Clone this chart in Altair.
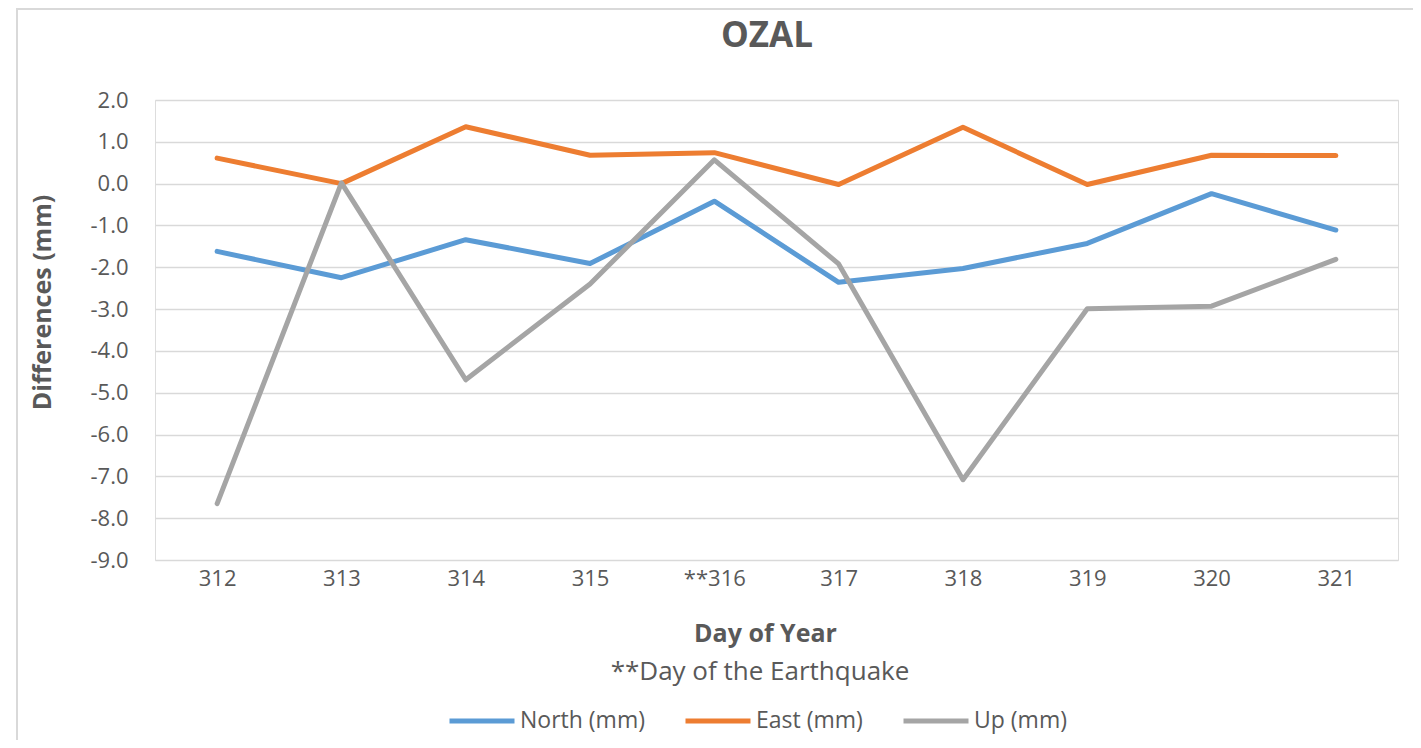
import altair as alt
import pandas as pd

# ---- data ----
days = ["312", "313", "314", "315", "**316", "317", "318", "319", "320", "321"]
north = [-1.62, -2.25, -1.34, -1.91, -0.42, -2.36, -2.03, -1.43, -0.24, -1.11]
east = [0.61, 0.00, 1.36, 0.68, 0.74, -0.02, 1.35, -0.02, 0.68, 0.67]
up = [-7.65, 0.02, -4.69, -2.40, 0.57, -1.92, -7.08, -2.99, -2.93, -1.81]
series = ["North (mm)", "East (mm)", "Up (mm)"]
colors = ["#5B9BD5", "#ED7D31", "#A5A5A5"]
y_ticks = [2, 1, 0, -1, -2, -3, -4, -5, -6, -7, -8, -9]
title_text = ["OZAL"]
x_title = "Day of Year"
y_title = "Differences (mm)"
note_text = ["**Day of the Earthquake"]

rows = []
for name, vals in zip(series, [north, east, up]):
    for d, v in zip(days, vals):
        rows.append({"day": d, "series": name, "value": v})
df = pd.DataFrame(rows)

W, H = 1243, 460
FONT = "Open Sans"
TXT = "#595959"
GRID = "#D9D9D9"

label_expr = (
    "datum.value < 0 ? '-' + format(abs(datum.value), '.1f') : format(datum.value, '.1f')"
)

lines = alt.Chart(df).mark_line(
    strokeWidth=5, strokeCap="round", strokeJoin="round"
).encode(
    x=alt.X(
        "day:N",
        sort=days,
        scale=alt.Scale(type="point", padding=0.5),
        axis=alt.Axis(
            title=x_title,
            labelAngle=0,
            ticks=False,
            domain=False,
            grid=False,
            labelPadding=8,
            labelFontSize=22,
            labelColor=TXT,
            labelFont=FONT,
            titleFont=FONT,
            titleFontSize=25,
            titleFontWeight="bold",
            titleColor=TXT,
            titleX=610,
            titleY=73,
            titleBaseline="middle",
        ),
    ),
    y=alt.Y(
        "value:Q",
        scale=alt.Scale(domain=[-9, 2], nice=False, zero=False),
        axis=alt.Axis(
            title=y_title,
            values=y_ticks,
            labelExpr=label_expr,
            ticks=False,
            domain=False,
            grid=True,
            gridColor=GRID,
            gridWidth=1.6,
            labelPadding=27,
            labelFontSize=22,
            labelColor=TXT,
            labelFont=FONT,
            titleFont=FONT,
            titleFontSize=25,
            titleFontWeight="bold",
            titleColor=TXT,
            titleX=-113,
            titleY=202,
            titleBaseline="middle",
        ),
    ),
    color=alt.Color(
        "series:N",
        sort=series,
        scale=alt.Scale(domain=series, range=colors),
        legend=alt.Legend(
            title=None,
            orient="none",
            direction="horizontal",
            legendX=292,
            legendY=586,
            symbolType="stroke",
            symbolStrokeWidth=5,
            symbolSize=4225,
            labelFontSize=23,
            labelFont=FONT,
            labelColor=TXT,
            labelOffset=3,
            columnPadding=30,
            padding=0,
        ),
    ),
)

note = alt.Chart(pd.DataFrame({"t": note_text})).mark_text(
    font=FONT, fontSize=26, color=TXT, align="center", baseline="middle"
).encode(x=alt.value(605), y=alt.value(572), text="t:N")

title = alt.Chart(pd.DataFrame({"t": title_text})).mark_text(
    font=FONT, fontSize=35, fontWeight="bold", color=TXT, align="center", baseline="middle"
).encode(x=alt.value(612), y=alt.value(-64), text="t:N")

frame = alt.Chart(pd.DataFrame({"k": [0]})).mark_rect(
    filled=False, stroke=GRID, strokeWidth=2
).encode(x=alt.value(-138), x2=alt.value(1600), y=alt.value(-91), y2=alt.value(900))

chart = alt.layer(frame, lines, note, title).properties(
    width=W,
    height=H,
    autosize=alt.AutoSizeParams(type="none"),
    padding={"left": 147, "top": 92, "right": 15, "bottom": 180},
).configure_view(stroke=None).configure(background="white")

chart.save("out.html", embed_options={"renderer": "svg", "actions": False})
